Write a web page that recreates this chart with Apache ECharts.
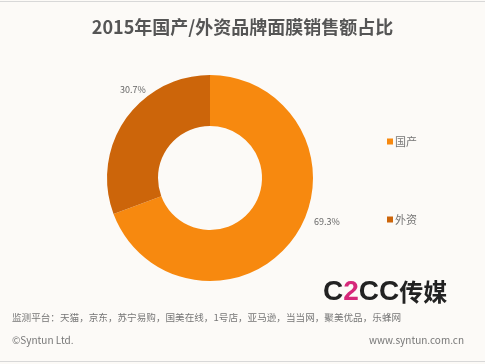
<!DOCTYPE html>
<html><head><meta charset="utf-8">
<script src="https://cdn.jsdelivr.net/npm/echarts@6/dist/echarts.min.js"></script>
<style>html,body{margin:0;padding:0;background:#fcfaf7;}#c{width:485px;height:364px;}</style>
</head><body><div id="c"></div>
<script>
var title = '2015年国产/外资品牌面膜销售额占比';
var categories = ['国产', '外资'];
var shares = [69.3, 30.7];
var colors = ['#f7890f', '#cc650a'];
var sourceNote = '监测平台：天猫，京东，苏宁易购，国美在线，1号店，亚马逊，当当网，聚美优品，乐蜂网';
var copyright = '©Syntun Ltd.';
var website = 'www.syntun.com.cn';

var chart = echarts.init(document.getElementById('c'));
var font = '"Noto Sans CJK SC", "Noto Sans", sans-serif';
chart.setOption({
  backgroundColor: '#fcfaf7',
  animation: false,
  title: {
    text: title, left: 'center', top: 13,
    textStyle: {fontFamily: font, fontSize: 18, fontWeight: 'bold', color: '#555'}
  },
  legend: {
    orient: 'vertical', left: 382, top: 131, itemGap: 67,
    itemWidth: 6, itemHeight: 6, icon: 'rect',
    data: categories,
    textStyle: {fontFamily: font, fontSize: 11, color: '#777', padding: [0,0,0,-3]}
  },
  color: colors,
  series: [{
    type: 'pie',
    center: [210, 178],
    radius: [52, 103],
    startAngle: 90,
    clockwise: true,
    label: {
      show: true, position: 'outside',
      formatter: function(p){ return p.value.toFixed(1) + '%'; },
      fontFamily: font, fontSize: 9, color: '#666'
    },
    labelLine: {show: false, length: 8, length2: 0},
    labelLayout: function(p){
      if (p.dataIndex === 0) return {x: 327, y: 222, align: 'center', verticalAlign: 'middle'};
      return {x: 133, y: 90, align: 'center', verticalAlign: 'middle'};
    },
    emphasis: {disabled: true},
    data: categories.map(function(c, i){ return {name: c, value: shares[i]}; })
  }],
  graphic: [
    {type: 'rect', shape: {x: 0, y: 1, width: 485, height: 1}, style: {fill: '#d8d8d8'}},
    {type: 'rect', shape: {x: 0, y: 361, width: 485, height: 1}, style: {fill: '#d8d8d8'}},
    {type: 'text', left: 323, top: 278, style: {
      rich: {a: {fontFamily: 'Liberation Sans, Arial, sans-serif', fontSize: 28, fontWeight: 'bold', fill: '#222'},
             b: {fontFamily: 'Liberation Sans, Arial, sans-serif', fontSize: 28, fontWeight: 'bold', fill: '#d6287a'},
             c: {fontFamily: font, fontSize: 24, fontWeight: 'bold', fill: '#222'}},
      text: '{a|C}{b|2}{a|CC}{c|传媒}'
    }},
    {type: 'text', left: 12, top: 313, style: {text: sourceNote, font: '9.6px ' + font, fill: '#777'}},
    {type: 'text', left: 12, top: 335, style: {text: copyright, font: '10px ' + font, fill: '#777'}},
    {type: 'text', right: 21, top: 335, style: {text: website, font: '10px ' + font, fill: '#777'}}
  ]
});
</script></body></html>
